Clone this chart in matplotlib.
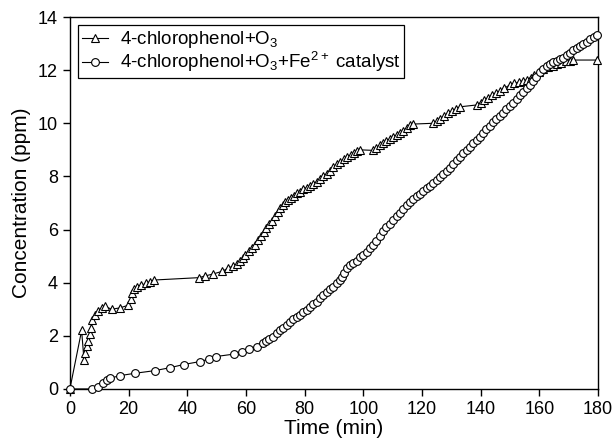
import matplotlib
matplotlib.use("Agg")
import matplotlib.pyplot as plt

plt.rcParams['font.family'] = ['Liberation Sans', 'DejaVu Sans']
plt.rcParams['mathtext.fontset'] = 'custom'
plt.rcParams['mathtext.rm'] = 'Liberation Sans'
plt.rcParams['mathtext.it'] = 'Liberation Sans'

# 4-chlorophenol + O3 (triangles)
t_o3 = [0, 4.0, 4.8, 5.2, 5.7, 6.2, 6.7, 7.2, 7.6, 8.5, 9.7, 10.8, 11.8, 14.2, 17.0,
        19.9, 20.8, 21.3, 21.9, 22.8, 24.4, 25.9, 27.3, 28.7, 44.1, 46.0, 48.9, 52.0,
        54.0, 55.7, 57.0, 58.0, 59.0, 59.8, 61.0, 62.0, 63.0, 64.0, 65.0, 66.0, 67.0,
        68.0, 69.0, 70.0, 70.8, 71.6, 72.5, 73.4, 74.4, 75.4, 76.3, 77.3, 78.4, 79.5,
        80.7, 81.8, 83.0, 84.1, 85.3, 86.4, 87.5, 88.6, 89.8, 91.0, 92.2, 93.4, 94.6,
        95.7, 96.8, 98.0, 98.9, 103.4, 104.5, 105.6, 106.7, 107.8, 109.0, 110.2, 111.4,
        112.5, 113.7, 114.8, 115.9, 117.0, 123.9, 125.0, 126.3, 127.6, 129.0, 130.2,
        131.5, 133.0, 138.7, 140.0, 141.3, 142.6, 144.0, 145.3, 146.7, 148.0, 150.0,
        151.5, 153.0, 154.4, 155.7, 157.0, 158.3, 159.8, 161.4, 163.0, 164.5, 166.0,
        167.5, 169.0, 170.3, 171.6, 179.6]
c_o3 = [0, 2.2, 1.1, 1.35, 1.6, 1.8, 2.05, 2.3, 2.6, 2.8, 2.95, 3.05, 3.12, 3.0, 3.05,
        3.15, 3.4, 3.6, 3.75, 3.85, 3.9, 3.97, 4.04, 4.1, 4.19, 4.25, 4.33, 4.43,
        4.55, 4.63, 4.7, 4.8, 4.92, 5.05, 5.2, 5.3, 5.42, 5.6, 5.75, 5.9, 6.05,
        6.2, 6.33, 6.5, 6.65, 6.8, 6.92, 7.02, 7.11, 7.2, 7.28, 7.36, 7.43, 7.52,
        7.58, 7.65, 7.73, 7.8, 7.9, 8.0, 8.1, 8.22, 8.35, 8.45, 8.55, 8.65, 8.72,
        8.8, 8.88, 8.95, 9.0, 8.98, 9.08, 9.17, 9.25, 9.33, 9.4, 9.48, 9.55,
        9.62, 9.72, 9.83, 9.92, 9.97, 10.0, 10.08, 10.17, 10.27, 10.37, 10.45,
        10.53, 10.62, 10.69, 10.78, 10.86, 10.95, 11.05, 11.13, 11.22, 11.32, 11.44,
        11.5, 11.55, 11.6, 11.63, 11.72, 11.83, 11.93, 12.03, 12.1, 12.17, 12.23,
        12.28, 12.33, 12.36, 12.38, 12.38]

# 4-chlorophenol + O3 + Fe2+ catalyst (circles)
t_fe = [0, 7.4, 9.7, 11.4, 12.5, 13.6, 17.0, 22.2, 29.0, 34.1, 38.8, 44.3, 47.3, 49.8,
        55.8, 58.5, 61.0, 63.9, 65.9, 67.0, 68.0, 69.2, 70.5, 71.6, 72.8, 73.9, 75.0,
        76.2, 77.3, 78.4, 79.6, 80.7, 81.8, 83.0, 84.1, 85.2, 86.4, 87.5, 88.7, 89.8,
        91.0, 92.0, 92.6, 93.5, 94.3, 95.5, 96.6, 97.7, 98.9, 100.0, 101.2, 102.3,
        103.4, 104.5, 105.7, 106.8, 107.9, 109.0, 110.2, 111.4, 112.5, 113.6, 114.8,
        115.9, 117.0, 118.2, 119.3, 120.5, 121.6, 122.8, 123.9, 125.0, 126.1, 127.3,
        128.4, 129.5, 130.7, 131.8, 133.0, 134.1, 135.2, 136.4, 137.5, 138.6, 139.8,
        140.9, 142.0, 143.2, 144.3, 145.4, 146.5, 147.7, 148.8, 150.0, 151.1, 152.3,
        153.4, 154.5, 155.7, 156.8, 157.9, 159.0, 160.2, 161.4, 162.5, 163.6, 164.8,
        165.9, 167.0, 168.2, 169.3, 170.5, 171.6, 172.7, 173.9, 175.0, 176.2, 177.3,
        178.5, 179.6]
c_fe = [0, 0, 0.09, 0.21, 0.32, 0.4, 0.5, 0.59, 0.69, 0.8, 0.92, 1.03, 1.12, 1.22,
        1.31, 1.4, 1.49, 1.59, 1.72, 1.8, 1.87, 1.97, 2.09, 2.2, 2.3, 2.41, 2.51,
        2.62, 2.72, 2.8, 2.89, 2.97, 3.07, 3.18, 3.29, 3.42, 3.55, 3.66, 3.76, 3.85,
        3.98, 4.1, 4.2, 4.38, 4.54, 4.68, 4.75, 4.82, 4.95, 5.06, 5.17, 5.3,
        5.43, 5.57, 5.75, 5.95, 6.1, 6.22, 6.35, 6.5, 6.63, 6.77, 6.92,
        7.05, 7.15, 7.25, 7.35, 7.45, 7.55, 7.65, 7.77, 7.87, 7.98, 8.1,
        8.2, 8.32, 8.45, 8.6, 8.74, 8.87, 9.0, 9.12, 9.25, 9.38, 9.5,
        9.63, 9.77, 9.9, 10.03, 10.15, 10.28, 10.4, 10.52, 10.65, 10.78, 10.92,
        11.05, 11.18, 11.32, 11.44, 11.58, 11.75, 11.92, 12.05, 12.15, 12.22, 12.3,
        12.36, 12.41, 12.47, 12.56, 12.66, 12.75, 12.83, 12.9, 12.98, 13.07, 13.16,
        13.24, 13.32]

x_ticks = list(range(0, 181, 20))
y_ticks = list(range(0, 15, 2))

fig = plt.figure(figsize=(6.13, 4.44), dpi=100)
ax = fig.add_axes([0.114, 0.124, 0.8615, 0.8377])

ax.plot(t_o3, c_o3, color='black', lw=0.8, marker='^', ms=5.2, mfc='white',
        mec='black', mew=0.8, clip_on=False, zorder=3,
        label=r'4-chlorophenol+O$_3$')
ax.plot(t_fe, c_fe, color='black', lw=0.8, marker='o', ms=5.6, mfc='white',
        mec='black', mew=0.8, clip_on=False, zorder=4,
        label=r'4-chlorophenol+O$_3$+Fe$^{2+}$ catalyst')

ax.set_xlim(0, 180)
ax.set_ylim(0, 14)
ax.set_xticks(x_ticks)
ax.set_yticks(y_ticks)
ax.tick_params(direction='out', length=5, width=1, labelsize=13, top=False, right=False)
for s in ax.spines.values():
    s.set_linewidth(1)
ax.set_xlabel('Time (min)', fontsize=15, labelpad=1)
ax.set_ylabel('Concentration (ppm)', fontsize=15, labelpad=5)

leg = ax.legend(loc='upper left', fontsize=13.5, handlelength=1.4, handletextpad=0.6,
                borderpad=0.2, labelspacing=0.0, fancybox=False, framealpha=1,
                edgecolor='black', borderaxespad=0.45)
leg.get_frame().set_linewidth(0.9)

fig.savefig('out.png', dpi=100)
